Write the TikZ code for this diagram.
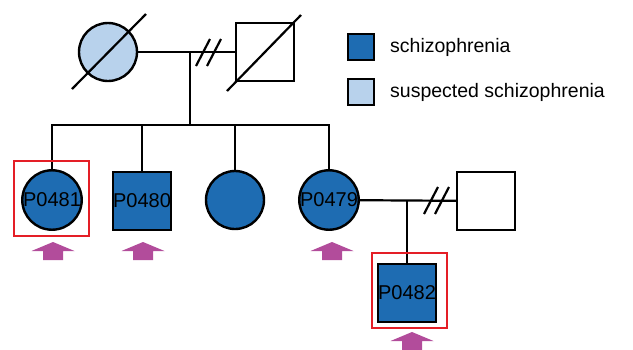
\documentclass[tikz,border=0pt]{standalone}
\usepackage{fontspec}
\setmainfont{Liberation Sans}
\definecolor{affected}{RGB}{30,108,178}
\definecolor{suspected}{RGB}{184,210,236}
\definecolor{marker}{RGB}{178,76,155}
\definecolor{proband}{RGB}{228,30,38}
\begin{document}
\begin{tikzpicture}[x=1pt,y=-1pt,
  person/.style={draw=black,line width=2.4pt,inner sep=0pt,
    font=\fontsize{20}{20}\selectfont},
  male/.style={person,rectangle,minimum size=58pt},
  female/.style={person,circle,minimum size=58pt},
  sick/.style={fill=affected},
  maybe/.style={fill=suspected},
  rel/.style={line width=2.2pt},
  probandbox/.style={draw=proband,line width=2pt,rectangle,minimum size=75pt,inner sep=0pt},
  legendbox/.style={draw=black,line width=2pt,rectangle,minimum size=26pt,inner sep=0pt},
  legendtext/.style={anchor=west,font=\fontsize{19.5}{20}\selectfont,inner sep=0pt},
  hash/.pic={\draw[rel] (-12,14) -- (2,-13); \draw[rel] (-1,14) -- (13,-13);},
  uparrow/.pic={\fill[marker] (0,0) -- (21.5,9) -- (10,9) -- (10,18) -- (-10,18) -- (-10,9) -- (-21.5,9) -- cycle;}
]
\useasboundingbox (0,0) rectangle (633,349);

% first generation
\node[female,maybe] (gm) at (108,52) {};
\node[male,fill=white] (gf) at (265,52) {};
\draw[rel] (gm) -- (gf);
\draw[rel] ([shift={(-36,37)}]gm.center) -- ([shift={(38,-38)}]gm.center);
\draw[rel] ([shift={(-38,39)}]gf.center) -- ([shift={(36,-37)}]gf.center);
\pic at (208,52) {hash};
\coordinate (d1) at (190,52);
\coordinate (sib) at (190,125);
\draw[rel] (d1) -- (sib);

% second generation
\node[female,sick] (c1) at (52,200) {P0481};
\node[male,sick] (c2) at (142,201) {P0480};
\node[female,sick] (c3) at (235,200) {};
\node[female,sick] (c4) at (329,200) {P0479};
\draw[rel] (c1.north) |- (c4.north |- sib) -- (c4.north);
\draw[rel] (c2.north) -- (c2.north |- sib);
\draw[rel] (c3.north) -- (c3.north |- sib);
\node[probandbox] (b1) at (51.5,198.5) {};

% second marriage and third generation
\node[male,fill=white] (sp) at (486,201) {};
\draw[rel] (c4) -- (sp);
\pic at (436,200) {hash};
\coordinate (d2) at (407,201);
\node[male,sick] (c5) at (407,293) {P0482};
\draw[rel] (d2) -- (c5.north);
\node[probandbox] (b2) at (409,290) {};

% index markers
\pic at (53,242) {uparrow};
\pic at (143,242) {uparrow};
\pic at (332,242) {uparrow};
\pic at (412,332) {uparrow};

% legend
\node[legendbox,fill=affected] (l1) at (361,46.5) {};
\node[legendbox,fill=suspected] (l2) at (361,92) {};
\node[legendtext] (t1) at (390,47) {schizophrenia};
\node[legendtext] (t2) at (390,92) {suspected schizophrenia};
\end{tikzpicture}
\end{document}
